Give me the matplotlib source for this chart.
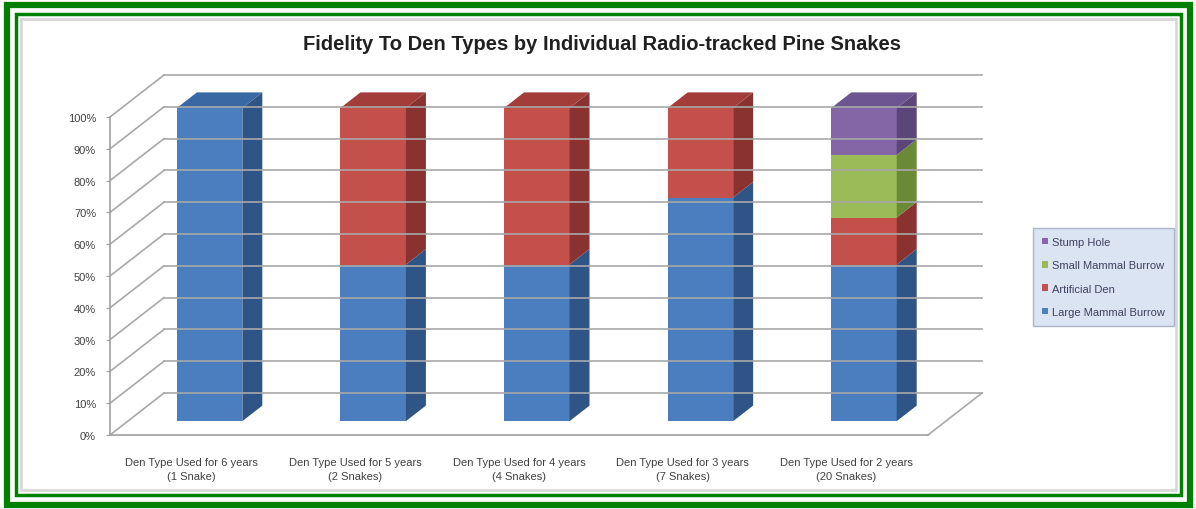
import matplotlib.pyplot as plt
from matplotlib.patches import Polygon, Rectangle
from matplotlib.lines import Line2D

plt.rcParams['font.family'] = ['Liberation Sans', 'DejaVu Sans']

categories = [
    "Den Type Used for 6 years\n(1 Snake)",
    "Den Type Used for 5 years\n(2 Snakes)",
    "Den Type Used for 4 years\n(4 Snakes)",
    "Den Type Used for 3 years\n(7 Snakes)",
    "Den Type Used for 2 years\n(20 Snakes)",
]
series_names = ["Large Mammal Burrow", "Artificial Den", "Small Mammal Burrow", "Stump Hole"]
large_mammal = [100, 50, 50, 71.4, 50]
artificial = [0, 50, 50, 28.6, 15]
small_mammal = [0, 0, 0, 0, 20]
stump_hole = [0, 0, 0, 0, 15]
yticks = list(range(0, 101, 10))

# front / side / top shades per series
shades = [
    ("#4a7ebf", "#2e5586", "#3a68a3"),
    ("#c4504c", "#8a3230", "#a23d3a"),
    ("#9bbb59", "#6b8a37", "#83a148"),
    ("#8466a6", "#5b4679", "#6c5590"),
]

DX, DY = 0.33, 13.2      # shear of full depth, in data units
D0, D1 = 0.33, 0.70      # bar depth span
BW = 0.4                 # bar width
BAR_SCALE = 0.985        # bars sit a little deeper, so they read slightly shorter

fig = plt.figure(figsize=(11.96, 5.10), dpi=100)

# frame
bg = fig.add_axes([0, 0, 1, 1])
bg.set_xlim(0, 1196)
bg.set_ylim(510, 0)
bg.axis('off')
bg.add_patch(Rectangle((7, 6), 1183, 500, fill=False, ec="#008000", lw=4.5))
bg.add_patch(Rectangle((16, 15), 1165, 481, fill=False, ec="#008000", lw=2.5))
bg.add_patch(Rectangle((21, 20), 1155, 471, fill=False, ec="#d8d8d8", lw=2))

fig.text(0.503, 1 - 45 / 510, "Fidelity To Den Types by Individual Radio-tracked Pine Snakes",
         ha='center', va='center', fontsize=14.5, fontweight='bold', color="#202020")

ax = fig.add_axes([110 / 1196, 74 / 510, 818 / 1196, 318 / 510])
ax.set_xlim(0, 5)
ax.set_ylim(0, 100)
ax.patch.set_visible(False)
for s in ['top', 'right']:
    ax.spines[s].set_visible(False)
ax.spines['left'].set_color("#a0a0a0")
ax.spines['bottom'].set_color("#a0a0a0")
ax.spines['left'].set_linewidth(1.2)
ax.spines['bottom'].set_linewidth(1.2)


def P(x, y, d):
    return (x + d * DX, y + d * DY)


grid = "#a8a8a8"
n = len(categories)
for v in yticks:
    # back wall line and side wall diagonal
    ax.add_line(Line2D(*zip(P(0, v, 1), P(n, v, 1)), color=grid, lw=1.2, clip_on=False))
    ax.add_line(Line2D(*zip(P(0, v, 0), P(0, v, 1)), color=grid, lw=1.2, clip_on=False))
ax.add_line(Line2D(*zip(P(n, 0, 0), P(n, 0, 1)), color=grid, lw=1.2, clip_on=False))

stacks = [large_mammal, artificial, small_mammal, stump_hole]
for i in range(n):
    x0 = i + 0.5 - BW / 2
    x1 = i + 0.5 + BW / 2
    base = 0
    top_idx = max(k for k in range(len(stacks)) if stacks[k][i] > 0)
    for k, vals in enumerate(stacks):
        h = vals[i]
        if h <= 0:
            continue
        front, side, topc = shades[k]
        b, t = base * BAR_SCALE, (base + h) * BAR_SCALE
        ax.add_patch(Polygon([P(x0, b, D0), P(x1, b, D0), P(x1, t, D0), P(x0, t, D0)],
                             closed=True, fc=front, ec='none', clip_on=False))
        ax.add_patch(Polygon([P(x1, b, D0), P(x1, b, D1), P(x1, t, D1), P(x1, t, D0)],
                             closed=True, fc=side, ec='none', clip_on=False))
        if k == top_idx:
            ax.add_patch(Polygon([P(x0, t, D0), P(x1, t, D0), P(x1, t, D1), P(x0, t, D1)],
                                 closed=True, fc=topc, ec='none', clip_on=False))
        base += h

ax.set_yticks(yticks)
ax.set_yticklabels([f"{v}%" for v in yticks])
ax.set_xticks([i + 0.5 for i in range(n)])
ax.set_xticklabels(categories, linespacing=1.5)
ax.tick_params(axis='y', length=3, color="#a0a0a0", pad=7, labelsize=8, labelcolor="#404040")
ax.tick_params(axis='x', length=0, pad=16, labelsize=8, labelcolor="#404040")

handles = [Rectangle((0, 0), 1, 1, fc=shades[k][0]) for k in range(4)][::-1]
leg = fig.legend(handles, series_names[::-1], loc='upper left',
                 bbox_to_anchor=(1033 / 1196, 1 - 229 / 510), fontsize=8,
                 labelspacing=1.2, handlelength=0.55, handleheight=0.55, handletextpad=0.35,
                 borderpad=0.8, borderaxespad=0, frameon=True, fancybox=False,
                 labelcolor="#404060")
leg.get_frame().set_facecolor("#d3def0")
leg.get_frame().set_edgecolor("#9aa8bd")

fig.savefig("out.png", dpi=100)
